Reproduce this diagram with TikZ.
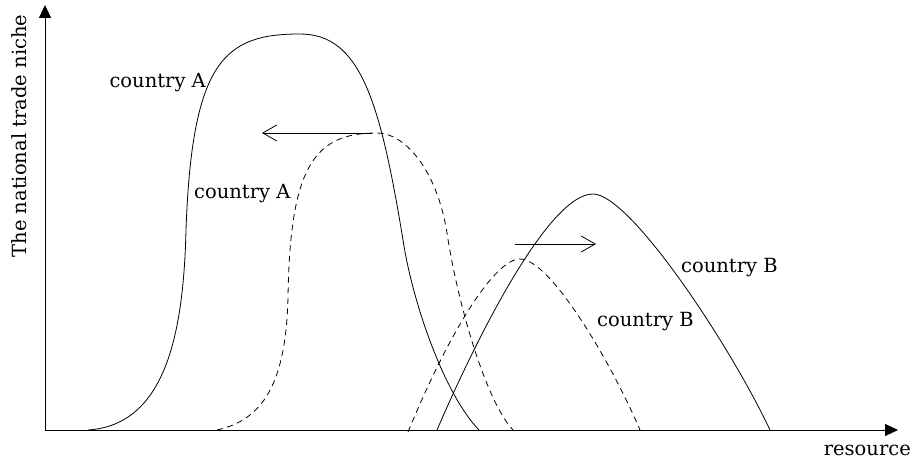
\documentclass[tikz,border=0pt]{standalone}
\usepackage{fontspec}
\setmainfont{DejaVu Serif}
\usetikzlibrary{arrows.meta}
\begin{document}
\begin{tikzpicture}[x=1bp,y=-1bp,
  axis/.style={line width=0.9bp,-{Triangle[length=13bp,width=12bp]}},
  curve/.style={line width=0.8bp},
  shifted/.style={curve,dash pattern=on 6bp off 4.5bp},
  move/.style={line width=0.8bp,-{Straight Barb[length=14bp,width=16bp]}},
  lbl/.style={font=\fontsize{19.5bp}{23bp}\selectfont,inner sep=0pt}]
\useasboundingbox (0,0) rectangle (915,461);
\coordinate (O) at (45,430);
\coordinate (ytip) at (45,5);
\coordinate (xtip) at (898,430);
\draw[axis] (O) -- (ytip);
\draw[axis] (O) -- (xtip);
% country A (solid)
\draw[curve] (88,430) .. controls (165,425) and (183.5,335) .. (186,230)
  .. controls (192,60) and (225,34) .. (300,34)
  .. controls (360,34) and (380,100) .. (403,240)
  .. controls (413,305) and (445,395) .. (479,430);
% country A (dashed)
\draw[shifted] (217,430) .. controls (262,420) and (286,385) .. (288,297)
  .. controls (290,165) and (315,133) .. (377,133)
  .. controls (405,133) and (437,170) .. (447,233)
  .. controls (457,300) and (485,400) .. (513,430);
% country B (solid)
\draw[curve] (437,430) .. controls (480,330) and (550,194) .. (593,194)
  .. controls (630,194) and (730,345) .. (770,430);
% country B (dashed)
\draw[shifted] (408,432) .. controls (450,330) and (495,259) .. (520,259)
  .. controls (550,259) and (610,360) .. (640,430);
% shift arrows
\coordinate (la1) at (372,133);
\coordinate (la2) at (262,133);
\draw[move] (la1) -- (la2);
\coordinate (ra1) at (515,244);
\coordinate (ra2) at (596,244);
\draw[move] (ra1) -- (ra2);
% labels
\node[lbl,anchor=base east] (lA1) at (206,88) {country A};
\node[lbl,anchor=base west] (lA2) at (194,199) {country A};
\node[lbl,anchor=base west] (lB1) at (681,273) {country B};
\node[lbl,anchor=base west] (lB2) at (597,327) {country B};
\node[lbl,anchor=base east] (xl) at (911,455) {resource};
\node[lbl,anchor=base,rotate=90] (yl) at (26,136) {The national trade niche};
\end{tikzpicture}
\end{document}
